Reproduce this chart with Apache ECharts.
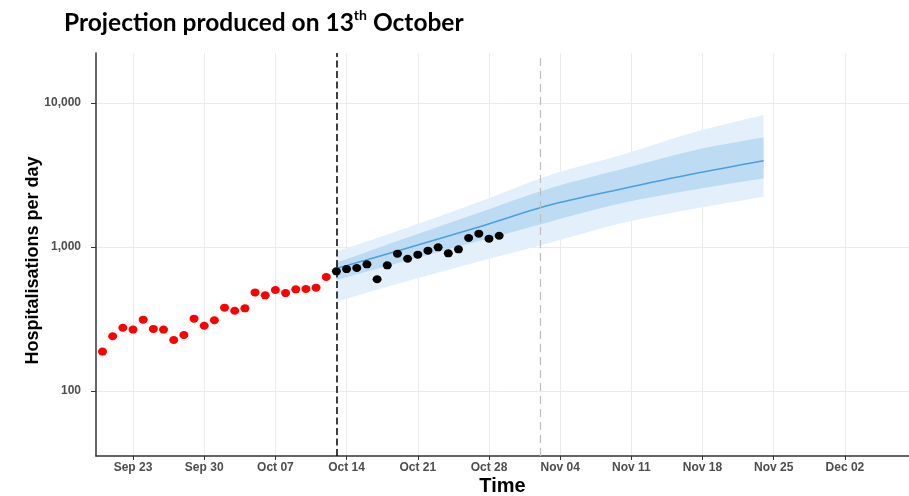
<!DOCTYPE html>
<html><head><meta charset="utf-8">
<script src="https://cdn.jsdelivr.net/npm/echarts@6/dist/echarts.min.js"></script>
<style>html,body{margin:0;padding:0;background:#fff}#c{width:909px;height:496px}</style>
</head><body><div id="c"></div>
<script>
// ---- data ----
const axisOrigin = '2020-09-23';
const xTickLabels = ['Sep 23','Sep 30','Oct 07','Oct 14','Oct 21','Oct 28','Nov 04','Nov 11','Nov 18','Nov 25','Dec 02'];
const yTickValues = [100, 1000, 10000];
const yTickLabels = ['100', '1,000', '10,000'];

const redStart = '2020-09-20';
const redValues = [188, 240, 275, 267, 313, 270, 267, 226, 245, 318, 284, 310, 379, 361, 375, 484, 462, 503, 479, 508, 511, 522, 619];
const blackStart = '2020-10-13';
const blackValues = [678, 703, 715, 758, 597, 746, 899, 829, 885, 943, 995, 904, 963, 1155, 1237, 1142, 1198];

const projDates = ['2020-10-13','2020-10-20','2020-10-27','2020-11-03','2020-11-10','2020-11-17','2020-11-24'];
const projMedian = [709, 984, 1377, 1957, 2528, 3213, 3976];
const projLo50 = [590, 806, 1099, 1499, 2012, 2488, 3000];
const projHi50 = [778, 1164, 1730, 2556, 3464, 4665, 5778];
const projLo95 = [417, 580, 793, 1071, 1461, 1836, 2235];
const projHi95 = [928, 1364, 2054, 3162, 4353, 6219, 8254];

const projectionDate = '2020-10-13';
const secondMarkerDate = '2020-11-02';

// ---- helpers ----
const DAY = 86400000;
function dayOffset(s) { return (Date.parse(s + 'T00:00:00Z') - Date.parse(axisOrigin + 'T00:00:00Z')) / DAY; }
const xTickValues = xTickLabels.map((_, i) => i * 7);
const redData = redValues.map((v, i) => [dayOffset(redStart) + i, v]);
const blackData = blackValues.map((v, i) => [dayOffset(blackStart) + i, v]);
const medianData = projMedian.map((v, i) => [dayOffset(projDates[i]), v]);

// Catmull-Rom spline through pixel points -> SVG path segments
function splinePath(pts, start) {
  let d = start ? 'M' + pts[0][0] + ' ' + pts[0][1] : 'L' + pts[0][0] + ' ' + pts[0][1];
  for (let i = 0; i < pts.length - 1; i++) {
    const p0 = pts[Math.max(i - 1, 0)], p1 = pts[i], p2 = pts[i + 1], p3 = pts[Math.min(i + 2, pts.length - 1)];
    const c1 = [p1[0] + (p2[0] - p0[0]) / 6, p1[1] + (p2[1] - p0[1]) / 6];
    const c2 = [p2[0] - (p3[0] - p1[0]) / 6, p2[1] - (p3[1] - p1[1]) / 6];
    d += ' C' + c1[0] + ' ' + c1[1] + ' ' + c2[0] + ' ' + c2[1] + ' ' + p2[0] + ' ' + p2[1];
  }
  return d;
}

function bandRender(lo, hi, fill) {
  return function (params, api) {
    const top = projDates.map((s, i) => api.coord([dayOffset(s), hi[i]]));
    const bot = projDates.map((s, i) => api.coord([dayOffset(s), lo[i]])).reverse();
    const d = splinePath(top, true) + ' ' + splinePath(bot, false) + ' Z';
    return { type: 'path', shape: { pathData: d, layout: 'cover' }, style: { fill: fill } };
  };
}

const chart = echarts.init(document.getElementById('c'));
const labelFont = { fontFamily: 'Liberation Sans', fontWeight: 'bold', fontSize: 12, color: '#4d4d4d' };

chart.setOption({
  animation: false,
  backgroundColor: '#fff',
  title: {
    text: '{a|Projection produced on 13}{s|th}{a| October}',
    left: 59, top: 3,
    textStyle: {
      rich: {
        a: { fontFamily: 'Lato', fontWeight: 'bold', fontSize: 24.5, color: '#000', lineHeight: 30 },
        s: { fontFamily: 'Lato', fontWeight: 'bold', fontSize: 14, color: '#000', verticalAlign: 'top', lineHeight: 16 }
      }
    }
  },
  grid: { left: 96, right: 0, top: 53, bottom: 40, containLabel: false, outerBoundsMode: 'none' },
  xAxis: {
    type: 'value',
    min: -3.64, max: 76.3,
    name: 'Time', nameLocation: 'middle', nameGap: 20, nameMoveOverlap: false,
    nameTextStyle: { fontFamily: 'Liberation Sans', fontWeight: 'bold', fontSize: 20, color: '#000' },
    axisLine: { show: true, onZero: false, lineStyle: { color: '#333', width: 1.5 } },
    axisTick: { show: true, length: 4, customValues: xTickValues, lineStyle: { color: '#333' } },
    axisLabel: Object.assign({ margin: 6, customValues: xTickValues,
      formatter: v => xTickLabels[Math.round(v / 7)] || '' }, labelFont),
    splitLine: { show: true, lineStyle: { color: '#ebebeb', width: 1 } }
  },
  yAxis: {
    type: 'log', logBase: 10,
    min: 35.4, max: 22230,
    name: 'Hospitalisations per day', nameLocation: 'middle', nameGap: 54, nameMoveOverlap: false,
    nameTextStyle: { fontFamily: 'Liberation Sans', fontWeight: 'bold', fontSize: 18, color: '#000', padding: [0, 12, 0, 0] },
    axisLine: { show: true, onZero: false, lineStyle: { color: '#333', width: 1.5 } },
    axisTick: { show: true, length: 5, customValues: yTickValues, lineStyle: { color: '#333' } },
    axisLabel: Object.assign({ margin: 15, customValues: yTickValues,
      formatter: v => { const i = yTickValues.findIndex(t => Math.abs(t - v) / t < 0.01); return i >= 0 ? yTickLabels[i] : ''; } }, labelFont),
    splitLine: { show: true, lineStyle: { color: '#ebebeb', width: 1 } }
  },
  series: [
    { type: 'custom', renderItem: bandRender(projLo95, projHi95, '#e3f0fb'), data: [[20, 1000]], z: 1, silent: true },
    { type: 'custom', renderItem: bandRender(projLo50, projHi50, '#bddcf3'), data: [[20, 1000]], z: 2, silent: true },
    {
      type: 'line', data: medianData, showSymbol: false, z: 3, smooth: 0.33,
      lineStyle: { color: '#4a9fdc', width: 1.6 },
      markLine: {
        silent: true, symbol: 'none', label: { show: false },
        data: [
          { xAxis: dayOffset(projectionDate), lineStyle: { color: '#000', type: [7, 3.5], width: 1.5 } },
          { xAxis: dayOffset(secondMarkerDate), lineStyle: { color: '#bdbdbd', type: [8, 5], width: 1.2 } }
        ]
      }
    },
    { type: 'scatter', data: redData, symbolSize: [9, 8], itemStyle: { color: '#ff0000', opacity: 1 }, z: 5 },
    { type: 'scatter', data: blackData, symbolSize: [9, 8], itemStyle: { color: '#000', opacity: 1 }, z: 6 }
  ]
});
</script></body></html>
